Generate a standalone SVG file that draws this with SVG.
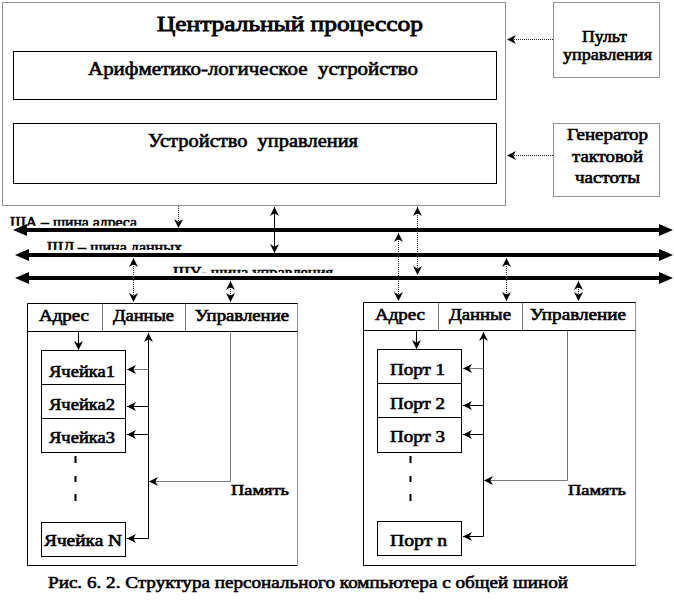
<svg xmlns="http://www.w3.org/2000/svg" width="674" height="605" viewBox="0 0 674 605">
<style>
text{font-family:"Liberation Serif","Times New Roman",serif;font-weight:normal;fill:#000;stroke:#000;stroke-width:0.6;lengthAdjust:spacingAndGlyphs}
.box{fill:#fff;stroke:#000;stroke-width:1}
.dot{fill:none;stroke:#222;stroke-width:1;stroke-dasharray:1,1}
.ln{fill:none;stroke:#000;stroke-width:1}
.gl{fill:none;stroke:#777;stroke-width:1}
.bus{stroke:#000;stroke-width:4}
.t18{font-size:18px}
.t16{font-size:16px}
.t15{font-size:15px}
</style>
<defs>
<marker id="a" viewBox="0 0 10 10" refX="10" refY="5" markerWidth="9" markerHeight="9" markerUnits="userSpaceOnUse" orient="auto-start-reverse">
<path d="M0,0 L10,5 L0,10 L3,5 z" fill="#000"/>
</marker>
<marker id="b" viewBox="0 0 14 12" refX="0" refY="6" markerWidth="14" markerHeight="12" markerUnits="userSpaceOnUse" orient="auto-start-reverse">
<path d="M0,0 L14,6 L0,12 z" fill="#000"/>
</marker>
<clipPath id="c1"><rect x="0" y="205" width="674" height="20.7"/></clipPath>
<clipPath id="c2"><rect x="0" y="235" width="674" height="15"/></clipPath>
<clipPath id="c3"><rect x="0" y="260" width="674" height="13"/></clipPath>
</defs>
<rect width="674" height="605" fill="#fff"/>

<g id="cpu">
<rect x="2.5" y="2.5" width="503" height="203" class="dot" fill="#fff"/>
<text x="157" y="31" font-size="22" style="stroke-width:0.9" textLength="266" lengthAdjust="spacingAndGlyphs">Центральный процессор</text>
</g>
<g id="alu">
<rect x="13.5" y="51.5" width="483" height="48" class="box"/>
<text x="88" y="75" class="t18" xml:space="preserve" textLength="330" lengthAdjust="spacingAndGlyphs">Арифметико-логическое  устройство</text>
</g>
<g id="cu">
<rect x="13.5" y="123.5" width="483" height="60" class="box"/>
<text x="148" y="147" class="t18" xml:space="preserve" textLength="210" lengthAdjust="spacingAndGlyphs">Устройство  управления</text>
</g>
<g id="pult">
<rect x="553.5" y="2.5" width="106" height="75" class="dot" fill="#fff"/>
<text x="582" y="42" class="t16" textLength="45" lengthAdjust="spacingAndGlyphs">Пульт</text>
<text x="563" y="60" class="t16" textLength="89" lengthAdjust="spacingAndGlyphs">управления</text>
</g>
<g id="gen">
<rect x="553.5" y="123.5" width="106" height="73" class="dot" fill="#fff"/>
<text x="567" y="140" class="t16" textLength="81" lengthAdjust="spacingAndGlyphs">Генератор</text>
<text x="572" y="162" class="t16" textLength="71" lengthAdjust="spacingAndGlyphs">тактовой</text>
<text x="575" y="183" class="t16" textLength="65" lengthAdjust="spacingAndGlyphs">частоты</text>
</g>

<g id="bus-labels">
<text x="10" y="227" class="t15" clip-path="url(#c1)" textLength="127" lengthAdjust="spacingAndGlyphs">ША – шина адреса</text>
<text x="47" y="252" class="t15" clip-path="url(#c2)" textLength="135" lengthAdjust="spacingAndGlyphs">ШД – шина данных</text>
<text x="173" y="277" class="t15" clip-path="url(#c3)" textLength="160" lengthAdjust="spacingAndGlyphs">ШУ- шина управления</text>
</g>

<g id="memory">
<rect x="27.5" y="303.5" width="270" height="262" fill="#fff" stroke="none"/>
<path d="M297.5,303.5 V565.5" class="dot"/>
<path d="M297.5,303.5 H27.5 V565.5 H297.5" class="ln"/>
<path d="M27.5,331.5 H297.5" class="ln"/>
<path d="M102.5,303.5 V331.5 M185.5,303.5 V331.5" class="gl"/>
<text x="39" y="321" class="t16" textLength="50" lengthAdjust="spacingAndGlyphs">Адрес</text>
<text x="113" y="321" class="t16" textLength="61" lengthAdjust="spacingAndGlyphs">Данные</text>
<text x="195" y="321" class="t16" textLength="94" lengthAdjust="spacingAndGlyphs">Управление</text>
<rect x="41.5" y="350.5" width="84" height="34" class="box"/>
<rect x="41.5" y="384.5" width="84" height="34" class="box"/>
<rect x="41.5" y="418.5" width="84" height="34" class="box"/>
<rect x="41.5" y="522.5" width="84" height="34" class="box"/>
<text x="49" y="377" class="t16" textLength="66" lengthAdjust="spacingAndGlyphs">Ячейка1</text>
<text x="49" y="410" class="t16" textLength="66" lengthAdjust="spacingAndGlyphs">Ячейка2</text>
<text x="49" y="443" class="t16" textLength="66" lengthAdjust="spacingAndGlyphs">Ячейка3</text>
<text x="44" y="546" class="t16" textLength="78" lengthAdjust="spacingAndGlyphs">Ячейка N</text>
<path d="M75.5,456 V463 M75.5,476 V482 M75.5,494 V501" stroke="#000" stroke-width="2"/>
<text x="231" y="495" class="t15" textLength="58" lengthAdjust="spacingAndGlyphs">Память</text>
</g>

<g id="ports">
<rect x="363.5" y="302.5" width="272" height="263" fill="#fff" stroke="none"/>
<path d="M635.5,302.5 V565.5" class="dot"/>
<path d="M635.5,302.5 H363.5 V565.5 H635.5" class="ln"/>
<path d="M363.5,330.5 H635.5" class="ln"/>
<path d="M438.5,302.5 V330.5 M522.5,302.5 V330.5" class="gl"/>
<text x="375" y="320" class="t16" textLength="50" lengthAdjust="spacingAndGlyphs">Адрес</text>
<text x="449" y="320" class="t16" textLength="62" lengthAdjust="spacingAndGlyphs">Данные</text>
<text x="530" y="320" class="t16" textLength="96" lengthAdjust="spacingAndGlyphs">Управление</text>
<rect x="377.5" y="349.5" width="84" height="34" class="box"/>
<rect x="377.5" y="383.5" width="84" height="34" class="box"/>
<rect x="377.5" y="417.5" width="84" height="35" class="box"/>
<rect x="377.5" y="521.5" width="84" height="34" class="box"/>
<text x="390" y="375" class="t16" textLength="55" lengthAdjust="spacingAndGlyphs">Порт 1</text>
<text x="390" y="409" class="t16" textLength="55" lengthAdjust="spacingAndGlyphs">Порт 2</text>
<text x="390" y="442" class="t16" textLength="55" lengthAdjust="spacingAndGlyphs">Порт 3</text>
<text x="390" y="546" class="t16" textLength="57" lengthAdjust="spacingAndGlyphs">Порт n</text>
<path d="M410.5,456 V463 M410.5,476 V482 M410.5,494 V501" stroke="#000" stroke-width="2"/>
<text x="568" y="495" class="t15" textLength="58" lengthAdjust="spacingAndGlyphs">Память</text>
</g>

<g id="connectors">
<line x1="27" y1="230" x2="659" y2="230" class="bus" marker-start="url(#b)" marker-end="url(#b)"/>
<line x1="29" y1="255" x2="659" y2="255" class="bus" marker-start="url(#b)" marker-end="url(#b)"/>
<line x1="29" y1="278" x2="659" y2="278" class="bus" marker-start="url(#b)" marker-end="url(#b)"/>
<line x1="553" y1="39.5" x2="507" y2="39.5" class="dot" marker-end="url(#a)"/>
<line x1="553" y1="155.5" x2="507" y2="155.5" class="dot" marker-end="url(#a)"/>
<line x1="178.5" y1="206" x2="178.5" y2="228" class="dot" marker-end="url(#a)"/>
<line x1="274.5" y1="207" x2="274.5" y2="253" class="ln" marker-start="url(#a)" marker-end="url(#a)"/>
<line x1="417.5" y1="207" x2="417.5" y2="275" class="dot" marker-start="url(#a)" marker-end="url(#a)"/>
<line x1="133.5" y1="258" x2="133.5" y2="302" class="dot" marker-start="url(#a)" marker-end="url(#a)"/>
<line x1="230.5" y1="281" x2="230.5" y2="302" class="dot" marker-start="url(#a)" marker-end="url(#a)"/>
<line x1="398.5" y1="233" x2="398.5" y2="301" class="dot" marker-start="url(#a)" marker-end="url(#a)"/>
<line x1="506.5" y1="258" x2="506.5" y2="301" class="dot" marker-start="url(#a)" marker-end="url(#a)"/>
<line x1="578.5" y1="281" x2="578.5" y2="301" class="dot" marker-start="url(#a)" marker-end="url(#a)"/>
<line x1="78.5" y1="332" x2="78.5" y2="350" class="ln" marker-end="url(#a)"/>
<line x1="148.5" y1="538.5" x2="148.5" y2="333" class="ln" marker-end="url(#a)"/>
<line x1="148.5" y1="369.5" x2="127" y2="369.5" class="gl" marker-end="url(#a)"/>
<line x1="148.5" y1="406.5" x2="127" y2="406.5" class="ln" marker-end="url(#a)"/>
<line x1="148.5" y1="434.5" x2="127" y2="434.5" class="ln" marker-end="url(#a)"/>
<line x1="148.5" y1="538.5" x2="127" y2="538.5" class="ln" marker-end="url(#a)"/>
<polyline points="230.5,332 230.5,481.5 149,481.5" class="gl" marker-end="url(#a)"/>
<line x1="416.5" y1="331" x2="416.5" y2="349" class="ln" marker-end="url(#a)"/>
<line x1="483.5" y1="536.5" x2="483.5" y2="332" class="ln" marker-end="url(#a)"/>
<line x1="483.5" y1="368.5" x2="463" y2="368.5" class="gl" marker-end="url(#a)"/>
<line x1="483.5" y1="405.5" x2="463" y2="405.5" class="ln" marker-end="url(#a)"/>
<line x1="483.5" y1="434.5" x2="463" y2="434.5" class="ln" marker-end="url(#a)"/>
<line x1="483.5" y1="536.5" x2="463" y2="536.5" class="ln" marker-end="url(#a)"/>
<polyline points="567.5,331 567.5,480.5 484,480.5" class="gl" marker-end="url(#a)"/>
</g>

<g id="caption">
<text x="48" y="588" font-size="17" textLength="520" lengthAdjust="spacingAndGlyphs">Рис. 6. 2. Структура персонального компьютера с общей шиной</text>
</g>
</svg>
